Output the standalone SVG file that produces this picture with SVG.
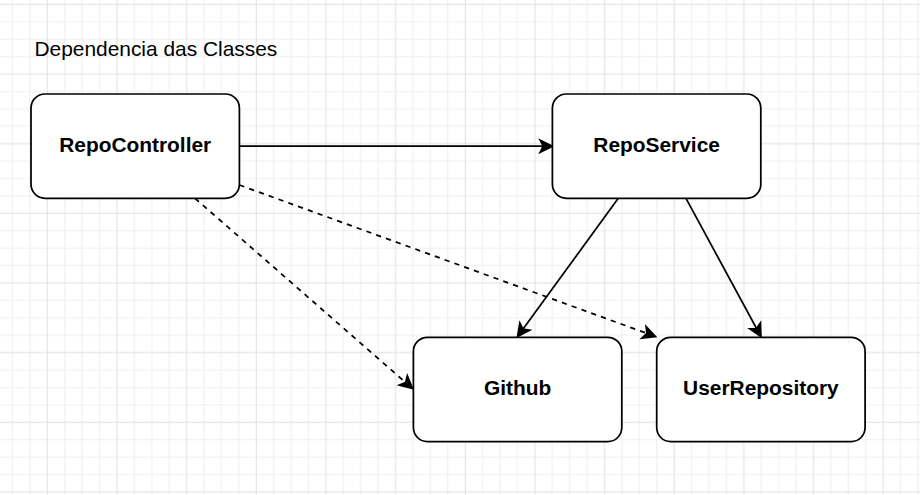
<svg xmlns="http://www.w3.org/2000/svg" width="920" height="495" viewBox="0 0 920 495">
  <style>
    .node rect { fill: #ffffff; stroke: #000000; stroke-width: 1.74; }
    .node text { font-family: "Liberation Sans", Arial, Helvetica, sans-serif; font-size: 20.9px; font-weight: bold; fill: #000000; text-anchor: middle; }
    .title { font-family: "Liberation Sans", Arial, Helvetica, sans-serif; font-size: 20.9px; fill: #000000; }
    .edge { fill: none; stroke: #000000; stroke-width: 1.74; }
    .dashed { stroke-dasharray: 5.2 5.2; }
    .minor { stroke: #efefef; stroke-width: 1; }
    .major { stroke: #e0e0e0; stroke-width: 1; }
  </style>
  <defs>
    <pattern id="grid" patternUnits="userSpaceOnUse" x="21.18" y="47.93" width="69.65" height="69.65">
      <rect width="69.65" height="69.65" fill="#ffffff"/>
      <path class="minor" d="M8.706,0V69.65M43.531,0V69.65M60.944,0V69.65M0,8.706H69.65M0,43.531H69.65M0,60.944H69.65"/>
      <path class="major" d="M26.119,0V69.65M0,26.119H69.65"/>
    </pattern>
    <marker id="arrow" markerUnits="userSpaceOnUse" viewBox="-16 -9 18 18" refX="0" refY="0" markerWidth="18" markerHeight="18" orient="auto" overflow="visible">
      <path d="M0,0 L-12.2,-6.1 L-9.1,0 L-12.2,6.1 Z" fill="#000000" stroke="#000000" stroke-width="1.74" stroke-dasharray="none" stroke-linejoin="miter"/>
    </marker>
  </defs>

  <rect id="background" x="0" y="0" width="920" height="495" fill="url(#grid)"/>

  <text class="title" x="34.5" y="55.7">Dependencia das Classes</text>

  <g id="connectors">
    <path id="e-controller-service" class="edge" d="M239.4,146.2 L552.4,146.2" marker-end="url(#arrow)"/>
    <path id="e-service-github" class="edge" d="M618.3,198.3 L517.6,336.5" marker-end="url(#arrow)"/>
    <path id="e-service-userrepo" class="edge" d="M686,198.3 L760.9,336.5" marker-end="url(#arrow)"/>
    <path id="e-controller-userrepo" class="edge dashed" d="M239.4,185 L655.5,336.5" marker-end="url(#arrow)"/>
    <path id="e-controller-github" class="edge dashed" d="M195,198.3 L412.5,388.5" marker-end="url(#arrow)"/>
  </g>

  <g id="node-repocontroller" class="node">
    <rect x="31" y="94" width="208.4" height="104.3" rx="14" ry="14"/>
    <text x="135.2" y="151.6">RepoController</text>
  </g>
  <g id="node-reposervice" class="node">
    <rect x="552.4" y="94" width="208.4" height="104.3" rx="14" ry="14"/>
    <text x="656.6" y="151.6">RepoService</text>
  </g>
  <g id="node-github" class="node">
    <rect x="413.4" y="337.3" width="208.4" height="104.3" rx="14" ry="14"/>
    <text x="517.6" y="394.9">Github</text>
  </g>
  <g id="node-userrepository" class="node">
    <rect x="656.7" y="337.3" width="208.4" height="104.3" rx="14" ry="14"/>
    <text x="760.9" y="394.9">UserRepository</text>
  </g>
</svg>
